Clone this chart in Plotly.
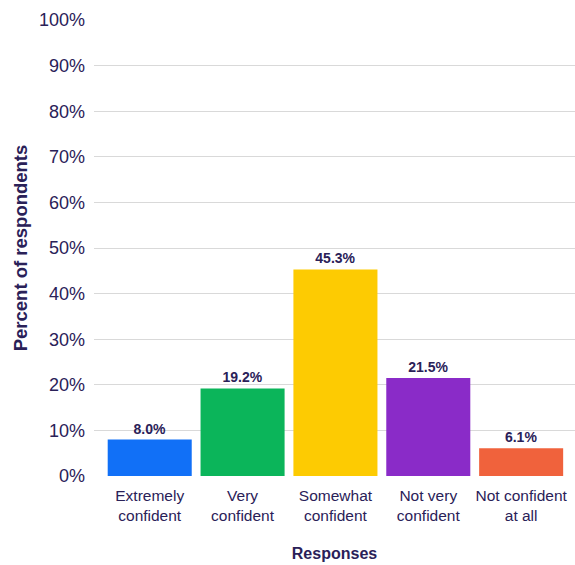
import plotly.graph_objects as go

categories = ["Extremely<br>confident", "Very<br>confident", "Somewhat<br>confident",
              "Not very<br>confident", "Not confident<br>at all"]
percents = [8.0, 19.2, 45.3, 21.5, 6.1]
colors = ["#1170f7", "#0bb55a", "#fdcb02", "#8a2bc8", "#f0623c"]
y_ticks = list(range(0, 101, 10))
y_tick_text = [f"{v}%" for v in y_ticks]

ink = "#2a2158"
font_family = "Liberation Sans, Arial, Helvetica, sans-serif"

fig = go.Figure(
    go.Bar(
        x=list(range(len(categories))),
        y=percents,
        marker=dict(color=colors, line=dict(width=0)),
        text=[f"<b>{v:.1f}%</b>" for v in percents],
        textposition="outside",
        textfont=dict(size=14, color=ink, family=font_family),
        cliponaxis=False,
        width=0.905,
    )
)

fig.update_layout(
    width=575,
    height=565,
    margin=dict(l=94, r=0, t=20, b=89),
    plot_bgcolor="white",
    paper_bgcolor="white",
    showlegend=False,
    font=dict(family=font_family, color=ink),
    xaxis=dict(
        tickmode="array",
        tickvals=list(range(len(categories))),
        ticktext=categories,
        range=[-0.6, 4.58],
        showgrid=False,
        zeroline=False,
        showline=False,
        ticks="",
        ticklabelstandoff=8,
        tickfont=dict(size=15.5, color=ink),
        title=dict(text="<b>Responses</b>", font=dict(size=16, color=ink), standoff=25),
    ),
    yaxis=dict(
        range=[0, 100],
        tickmode="array",
        tickvals=y_ticks,
        ticktext=y_tick_text,
        showgrid=True,
        gridcolor="#d9d9d9",
        gridwidth=1,
        zeroline=False,
        showline=False,
        ticks="",
        ticklabelstandoff=8,
        tickfont=dict(size=18, color=ink),
        title=dict(text="<b>Percent of respondents</b>", font=dict(size=18.5, color=ink), standoff=6),
    ),
)

fig.write_html("out.html")
